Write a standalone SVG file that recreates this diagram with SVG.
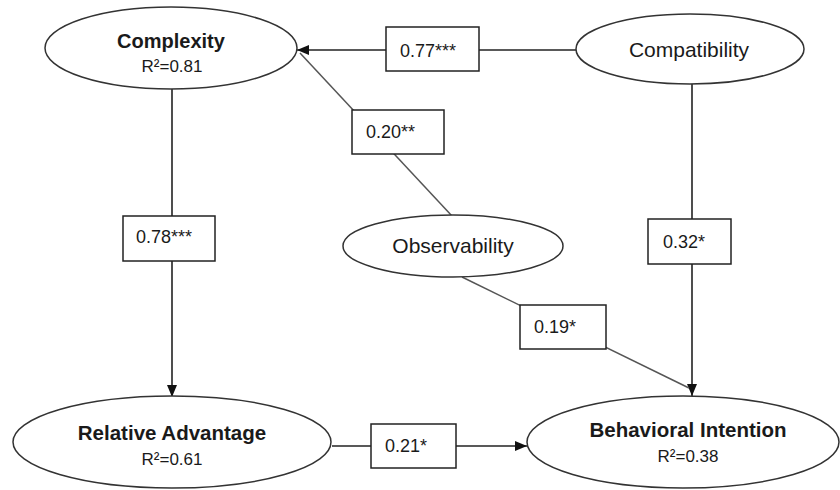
<svg xmlns="http://www.w3.org/2000/svg" width="840" height="490" viewBox="0 0 840 490">
<defs>
<marker id="arr" viewBox="0 0 12 10" refX="12" refY="5" markerWidth="12" markerHeight="10" markerUnits="userSpaceOnUse" orient="auto">
<path d="M0,0 L12,5 L0,10 Z" fill="#111"/>
</marker>
<style>
.node ellipse{fill:#fff;stroke:#333;stroke-width:1.5}
.box rect{fill:#fff;stroke:#222;stroke-width:1.5}
.edge{stroke:#222;stroke-width:1.6;fill:none}
.diag{stroke:#555;stroke-width:1.5;fill:none}
.b{font-family:"Liberation Sans",Arial,sans-serif;font-weight:bold;font-size:20px;fill:#1a1a1a;text-anchor:middle}
.r{font-family:"Liberation Sans",Arial,sans-serif;font-size:21px;fill:#1a1a1a;text-anchor:middle}
.r2{font-family:"Liberation Sans",Arial,sans-serif;font-size:17px;fill:#1a1a1a;text-anchor:middle}
.n{font-family:"Liberation Sans",Arial,sans-serif;font-size:18px;fill:#1a1a1a}
</style>
</defs>
<rect width="840" height="490" fill="#fff"/>
<g id="connectors">
<line class="edge" x1="172" y1="89" x2="172" y2="397" marker-end="url(#arr)"/>
<line class="edge" x1="576" y1="50" x2="297" y2="50" marker-end="url(#arr)"/>
<line class="diag" x1="452" y1="216" x2="300" y2="53"/>
<line class="edge" x1="692" y1="84" x2="692" y2="396" marker-end="url(#arr)"/>
<line class="diag" x1="462" y1="277" x2="689" y2="388"/>
<line class="edge" x1="332" y1="446" x2="527" y2="446" marker-end="url(#arr)"/>
<g class="box" id="lbl-077"><rect x="386" y="27" width="93" height="44"/><text class="n" x="400" y="57">0.77***</text></g>
<g class="box" id="lbl-020"><rect x="352" y="110" width="92" height="44"/><text class="n" x="366" y="138">0.20**</text></g>
<g class="box" id="lbl-078"><rect x="123" y="216" width="92" height="45"/><text class="n" x="136" y="243">0.78***</text></g>
<g class="box" id="lbl-032"><rect x="648" y="219" width="83" height="45"/><text class="n" x="663" y="248">0.32*</text></g>
<g class="box" id="lbl-019"><rect x="520" y="305" width="86" height="44"/><text class="n" x="534" y="333">0.19*</text></g>
<g class="box" id="lbl-021"><rect x="371" y="424" width="85" height="44"/><text class="n" x="385" y="452">0.21*</text></g>
</g>
<g class="node" id="complexity">
<ellipse cx="171" cy="48" rx="126" ry="41"/>
<text class="b" x="171" y="48">Complexity</text>
<text class="r2" x="172" y="72">R²=0.81</text>
</g>
<g class="node" id="compatibility">
<ellipse cx="690" cy="49" rx="114" ry="35"/>
<text class="r" x="689" y="57">Compatibility</text>
</g>
<g class="node" id="observability">
<ellipse cx="453" cy="246" rx="110" ry="31"/>
<text class="r" x="453" y="253">Observability</text>
</g>
<g class="node" id="relative-advantage">
<ellipse cx="172" cy="442" rx="159" ry="46"/>
<text class="b" x="172" y="440" style="font-size:20.5px">Relative Advantage</text>
<text class="r2" x="172" y="465">R²=0.61</text>
</g>
<g class="node" id="behavioral-intention">
<ellipse cx="683" cy="442" rx="156" ry="46"/>
<text class="b" x="688" y="437" style="font-size:20.5px">Behavioral Intention</text>
<text class="r2" x="688" y="462">R²=0.38</text>
</g>
</svg>
